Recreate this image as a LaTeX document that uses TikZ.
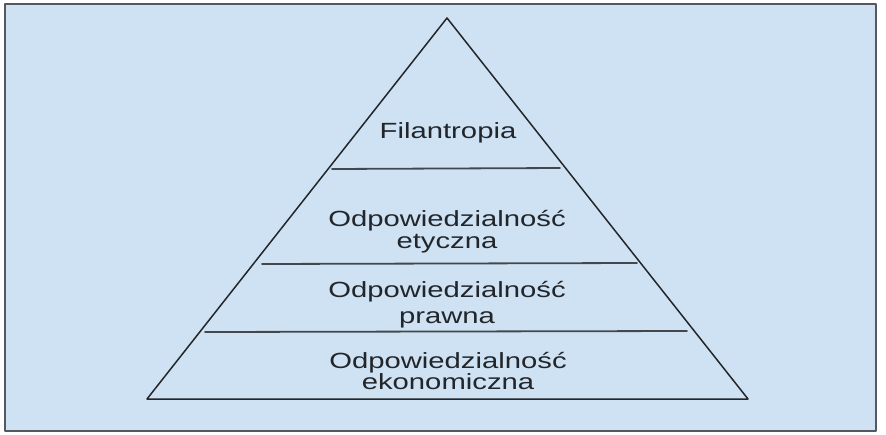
\documentclass[tikz,border=0pt]{standalone}
\usepackage{fontspec}
\setmainfont{Liberation Sans}
\definecolor{paleblue}{HTML}{CFE2F3}
\definecolor{framegray}{HTML}{55595F}
\definecolor{inkgray}{HTML}{22262B}
\tikzset{
  levellabel/.style={align=center,text=inkgray,xscale=1.33,
    font=\fontsize{22}{22}\selectfont},
  divider/.style={draw=inkgray!85,line width=1.8pt}
}
\begin{document}
\begin{tikzpicture}[line cap=round,line join=round,x=1pt,y=-1pt]
\useasboundingbox (0,0) rectangle (886,434);
\fill[white] (0,0) rectangle (886,434);
\draw[framegray,line width=2.2pt,fill=paleblue] (5,4) rectangle (876,431);
% pyramid
\coordinate (apex) at (447,18);
\coordinate (baseL) at (147,399);
\coordinate (baseR) at (748,399);
\draw[inkgray,line width=1.5pt] (apex)--(baseL)--(baseR)--cycle;
\draw[divider] (332,169)--(560,168);
\draw[divider] (262,264)--(637,263);
\draw[divider] (205,332)--(687,331);
\node[levellabel] (filantropia) at (448,133) {Filantropia};
\node[levellabel] (etyczna) at (447,232) {Odpowiedzialność\\etyczna};
\node[levellabel] (prawna) at (447,305) {Odpowiedzialność\\[4pt]prawna};
\node[levellabel] (ekonomiczna) at (448,371) {Odpowiedzialność\\[-1pt]ekonomiczna};
\end{tikzpicture}
\end{document}
